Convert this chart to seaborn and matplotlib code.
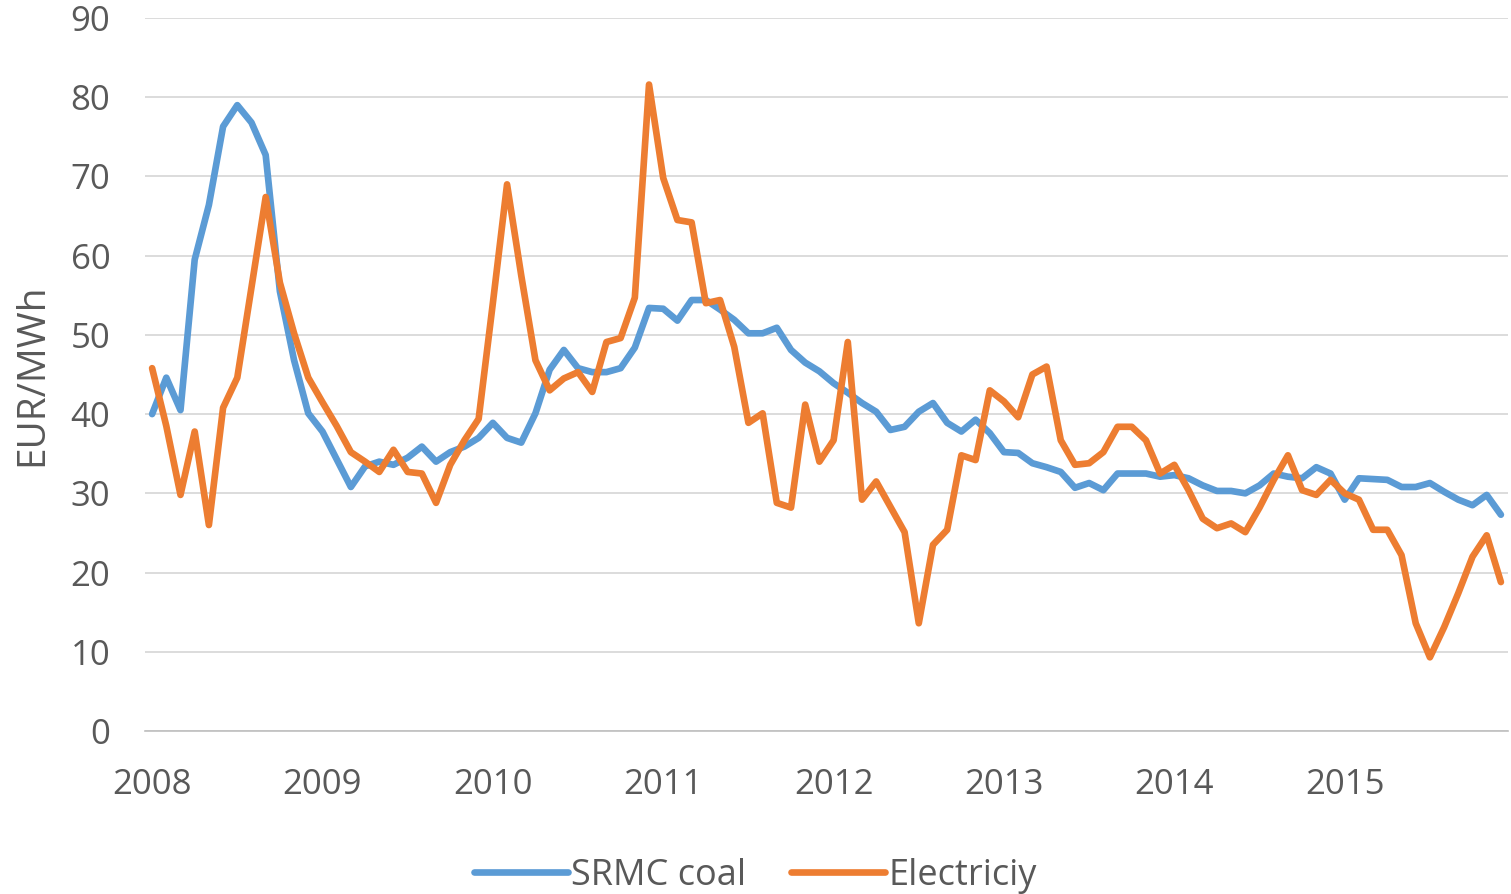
import matplotlib
matplotlib.use("Agg")
import matplotlib.pyplot as plt
import numpy as np
import pandas as pd
import seaborn as sns

# Monthly values, Jan 2008 - Dec 2015 (EUR/MWh)
years = ["2008", "2009", "2010", "2011", "2012", "2013", "2014", "2015"]
series_names = ["SRMC coal", "Electriciy"]

srmc_coal = [
    40.0, 44.6, 40.5, 59.5, 66.4, 76.3, 79.0, 76.8, 72.7, 55.5, 46.8, 40.1,
    37.8, 34.3, 30.8, 33.4, 34.0, 33.6, 34.5, 35.9, 34.0, 35.2, 35.9, 37.0,
    38.9, 37.0, 36.4, 40.1, 45.6, 48.1, 45.8, 45.3, 45.3, 45.8, 48.4, 53.4,
    53.3, 51.8, 54.4, 54.4, 53.2, 51.9, 50.2, 50.2, 50.9, 48.1, 46.5, 45.4,
    43.9, 42.7, 41.4, 40.3, 38.0, 38.4, 40.3, 41.4, 38.9, 37.8, 39.3, 37.6,
    35.2, 35.1, 33.8, 33.3, 32.7, 30.7, 31.3, 30.4, 32.5, 32.5, 32.5, 32.1,
    32.3, 31.9, 31.0, 30.3, 30.3, 30.0, 31.0, 32.5, 32.1, 31.9, 33.3, 32.5,
    29.2, 31.9, 31.8, 31.7, 30.8, 30.8, 31.3, 30.2, 29.2, 28.5, 29.8, 27.3,
]
electricity = [
    45.8, 38.5, 29.8, 37.8, 26.0, 40.8, 44.6, 56.0, 67.4, 56.6, 50.2, 44.6,
    41.5, 38.5, 35.2, 34.0, 32.7, 35.5, 32.7, 32.5, 28.8, 33.6, 36.7, 39.4,
    54.0, 69.0, 57.5, 46.8, 43.0, 44.5, 45.3, 42.8, 49.1, 49.6, 54.7, 81.6,
    69.8, 64.5, 64.2, 54.0, 54.4, 48.5, 38.9, 40.1, 28.8, 28.2, 41.2, 34.0,
    36.7, 49.1, 29.2, 31.5, 28.3, 25.1, 13.6, 23.5, 25.4, 34.8, 34.2, 43.0,
    41.6, 39.6, 45.0, 46.0, 36.7, 33.6, 33.8, 35.2, 38.4, 38.4, 36.7, 32.5,
    33.6, 30.4, 26.8, 25.6, 26.2, 25.1, 28.2, 31.7, 34.8, 30.4, 29.8, 31.7,
    30.0, 29.2, 25.4, 25.4, 22.2, 13.6, 9.3, 13.1, 17.4, 22.0, 24.7, 18.8,
]

BLUE = "#5B9BD5"
ORANGE = "#ED7D31"
TEXT = "#595959"
GRID = "#D9D9D9"

sns.set_theme(style="white")
plt.rcParams["font.family"] = ["Open Sans", "DejaVu Sans"]

n = len(srmc_coal)
month = np.arange(n)
df = pd.concat([
    pd.DataFrame({"month": month, "value": srmc_coal, "series": series_names[0]}),
    pd.DataFrame({"month": month, "value": electricity, "series": series_names[1]}),
])

fig, ax = plt.subplots(figsize=(15.11, 8.94), dpi=100)
fig.subplots_adjust(left=145 / 1511, right=1508 / 1511, top=1 - 18 / 894, bottom=1 - 731 / 894)

sns.lineplot(data=df, x="month", y="value", hue="series", palette=[BLUE, ORANGE],
             lw=4.8, ax=ax, legend=False, zorder=3)

ax.set_xlim(-0.5, n - 0.5)
ax.set_ylim(0, 90)
ax.set_yticks(range(0, 91, 10))
ax.yaxis.grid(True, color=GRID, lw=1.3)
ax.set_axisbelow(True)

# tick marks at year boundaries, labels centred on January
ax.set_xticks(np.arange(-0.5, n, 12))
ax.set_xticklabels([])
ax.set_xticks(np.arange(0, n, 12), minor=True)
ax.set_xticklabels(years, minor=True)
ax.tick_params(axis="x", which="major", length=8, width=1.2, color="#BFBFBF", direction="out")
ax.tick_params(axis="x", which="minor", length=0, pad=27, labelsize=25, labelcolor=TEXT)
ax.tick_params(axis="y", length=0, pad=25, labelsize=25, labelcolor=TEXT)

for s in ["top", "right", "left"]:
    ax.spines[s].set_visible(False)
ax.spines["bottom"].set_color("#BFBFBF")
ax.spines["bottom"].set_linewidth(1.2)

ax.set_xlabel("")
ax.set_ylabel("EUR/MWh", fontsize=28, color=TEXT, labelpad=14)

handles = [plt.Line2D([], [], color=c, lw=4.8, solid_capstyle="round") for c in (BLUE, ORANGE)]
fig.legend(handles, series_names, loc="center", bbox_to_anchor=(0.5, 1 - 876 / 894),
           ncol=2, frameon=False, fontsize=26, labelcolor=TEXT,
           handlelength=2.6, handletextpad=0.1, columnspacing=1.25)

fig.savefig("out.png", dpi=100)
